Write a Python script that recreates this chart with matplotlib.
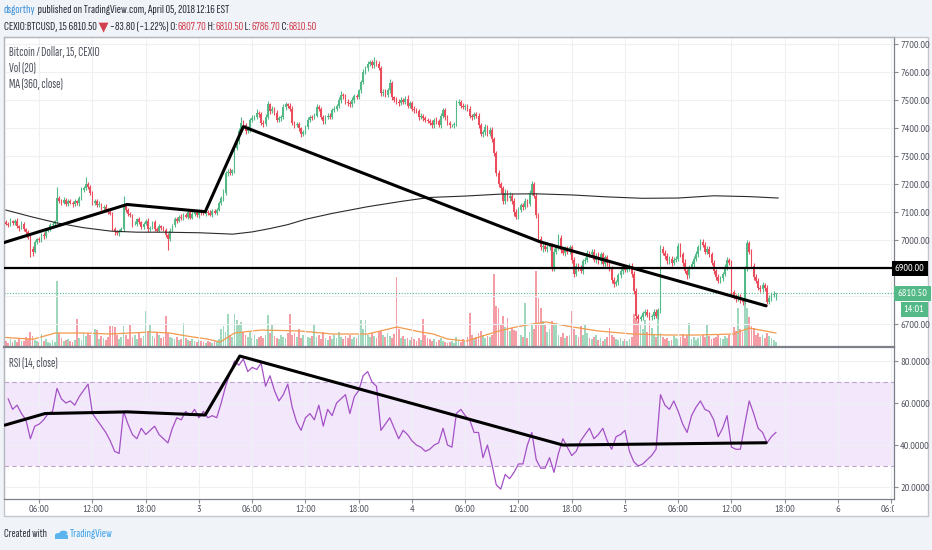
import numpy as np
import matplotlib.pyplot as plt
from matplotlib.patches import Rectangle, Circle
from matplotlib.transforms import Bbox, TransformedBbox

plt.rcParams['font.family'] = ['PT Sans Narrow', 'DejaVu Sans']
NARROW = ['Sofia Sans Extra Condensed', 'PT Sans Narrow', 'DejaVu Sans']

# 15 minute candles, Apr 2 02:15 .. Apr 5 17:15 (hours counted from Apr 2 00:00)
first_open = 7065
close = [
    7060, 7055, 7068, 7062,  7070, 7050, 7045, 7060,  7040, 7030, 7010, 6970,
    6960, 6995, 7005, 7000,  7020, 7015, 7035, 7040,  7055, 7060, 7068, 7150,
    7140, 7135, 7145, 7130,  7140, 7135, 7128, 7140,  7132, 7150, 7180, 7185,
    7200, 7190, 7170, 7135,  7140, 7125, 7130, 7115,  7120, 7110, 7100, 7095,
    7040, 7030, 7025, 7035,  7040, 7125, 7110, 7095,  7090, 7058, 7060, 7075,
    7065, 7048, 7060, 7070,  7040, 7045, 7065, 7040,  7035, 7050, 7045, 7038,
    7020, 7005, 7035, 7055,  7075, 7070, 7085, 7080,  7090, 7085, 7100, 7080,
    7095, 7100, 7090, 7105,  7100, 7095, 7102, 7098,  7092, 7105, 7098, 7110,
    7132, 7150, 7170, 7240,  7245, 7240, 7250, 7330,  7355, 7390, 7420, 7410,
    7390, 7395, 7430, 7438,  7440, 7455, 7450, 7420,  7415, 7440, 7485, 7460,
    7470, 7455, 7430, 7435,  7440, 7475, 7485, 7480,  7470, 7420, 7410, 7415,
    7400, 7380, 7385, 7405,  7430, 7440, 7438, 7445,  7475, 7470, 7440, 7425,
    7440, 7445, 7440, 7465,  7470, 7480, 7500, 7520,  7515, 7495, 7490, 7485,
    7500, 7515, 7510, 7535,  7565, 7600, 7615, 7630,  7635, 7625, 7638, 7630,
    7615, 7525, 7530, 7520,  7535, 7560, 7510, 7500,  7495, 7490, 7500, 7495,
    7505, 7480, 7490, 7470,  7465, 7460, 7440, 7445,  7435, 7430, 7425, 7420,
    7410, 7430, 7425, 7410,  7445, 7465, 7440, 7420,  7410, 7410, 7415, 7490,
    7495, 7480, 7475, 7480,  7470, 7445, 7440, 7450,  7445, 7410, 7380, 7385,
    7405, 7380, 7395, 7360,  7310, 7240, 7200, 7185,  7140, 7170, 7150, 7160,
    7140, 7100, 7085, 7110,  7125, 7120, 7140, 7130,  7170, 7200, 7160, 7090,
    7005, 6975, 6980, 6970,  6975, 6980, 6900, 6960,  6975, 7010, 6965, 6955,
    6970, 6960, 6975, 6930,  6880, 6910, 6900, 6890,  6925, 6930, 6955, 6950,
    6960, 6930, 6945, 6925,  6950, 6915, 6940, 6920,  6900, 6860, 6845, 6850,
    6875, 6890, 6905, 6895,  6900, 6910, 6880, 6820,  6730, 6720, 6725, 6740,
    6745, 6735, 6725, 6728,  6745, 6730, 6750, 6970,  6955, 6945, 6925, 6935,
    6920, 6930, 6935, 6980,  6950, 6920, 6890, 6875,  6905, 6915, 6935, 6950,
    6975, 6995, 6985, 6960,  6970, 6950, 6920, 6890,  6870, 6855, 6865, 6880,
    6905, 6930, 6920, 6815,  6800, 6790, 6800, 6785,  6780, 6900, 6990, 6960,
    6910, 6870, 6855, 6830,  6825, 6840, 6830, 6780,  6795, 6805, 6807.7, 6810.5,
]
wick_up = [
    8, 6, 10, 5,  6, 9, 5, 8,  7, 5, 6, 8,  9, 6, 5, 8,  6, 8, 7, 5,  8, 6, 5, 40,
    10, 6, 8, 5,  6, 9, 5, 7,  5, 8, 12, 10,  27, 8, 6, 5,  8, 6, 9, 5,  6, 8, 5, 7,
    5, 6, 8, 5,  6, 35, 8, 5,  7, 5, 8, 6,  9, 5, 7, 6,  8, 6, 5, 9,  6, 8, 5, 7,
    5, 6, 8, 5,  7, 9, 6, 8,  6, 8, 7, 10,  8, 5, 9, 6,  7, 10, 6, 8,  9, 6, 8, 5,
    8, 10, 12, 9,  8, 12, 6, 10,  12, 10, 20, 8,  9, 12, 8, 10,  8, 15, 6, 9,  8, 10, 12, 7,
    10, 6, 9, 8,  7, 12, 8, 6,  10, 8, 6, 9,  8, 6, 10, 7,  9, 8, 7, 10,  12, 8, 6, 9,
    7, 10, 8, 6,  9, 8, 10, 12,  7, 9, 8, 6,  10, 8, 9, 7,  8, 10, 9, 12,  10, 8, 18, 7,
    9, 8, 12, 10,  8, 15, 9, 6,  10, 8, 12, 7,  9, 15, 8, 6,  8, 7, 9, 10,  6, 8, 7, 9,
    8, 6, 9, 7,  10, 8, 6, 9,  7, 6, 8, 10,  9, 7, 10, 8,  8, 10, 7, 9,  7, 9, 8, 10,
    12, 8, 10, 9,  8, 10, 12, 9,  10, 12, 9, 11,  9, 10, 12, 8,  10, 9, 12, 8,  10, 12, 9, 8,
    9, 10, 12, 8,  8, 10, 9, 12,  10, 12, 9, 8,  9, 8, 10, 7,  10, 8, 9, 12,  8, 9, 10, 8,
    10, 9, 8, 12,  8, 10, 9, 7,  9, 8, 10, 9,  8, 10, 9, 8,  10, 9, 8, 10,  9, 8, 10, 9,
    8, 9, 10, 8,  9, 8, 10, 15,  10, 12, 8, 9,  8, 10, 9, 12,  10, 8, 12, 9,  8, 10, 9, 12,
    10, 8, 9, 10,  9, 8, 10, 9,  8, 10, 9, 8,  9, 10, 8, 10,  9, 8, 10, 9,  8, 10, 10, 9,
    10, 8, 9, 12,  9, 10, 8, 12,  10, 9, 12, 0,
]
wick_dn = [
    6, 9, 5, 8,  8, 6, 10, 5,  5, 8, 6, 30,  15, 6, 8, 5,  7, 9, 5, 6,  6, 5, 8, 6,
    5, 8, 6, 9,  8, 5, 9, 6,  6, 9, 5, 8,  5, 7, 8, 10,  9, 6, 5, 8,  7, 9, 6, 5,
    8, 10, 6, 9,  5, 6, 8, 7,  6, 9, 5, 8,  8, 6, 9, 5,  10, 7, 6, 8,  7, 5, 9, 6,
    8, 40, 6, 5,  6, 8, 5, 7,  9, 6, 8, 5,  5, 8, 6, 9,  8, 6, 9, 7,  6, 9, 5, 8,
    5, 6, 8, 7,  9, 8, 6, 10,  8, 10, 9, 12,  10, 8, 9, 7,  8, 6, 10, 9,  9, 7, 8, 10,
    6, 9, 8, 7,  8, 6, 9, 8,  7, 10, 8, 6,  9, 12, 8, 7,  8, 7, 9, 6,  6, 9, 8, 10,
    9, 6, 8, 7,  7, 8, 6, 9,  9, 7, 10, 8,  8, 9, 7, 6,  9, 8, 7, 10,  8, 10, 9, 8,
    7, 10, 8, 9,  9, 8, 10, 7,  8, 9, 7, 10,  7, 8, 9, 8,  9, 7, 10, 8,  8, 9, 7, 10,
    10, 8, 9, 7,  8, 10, 9, 8,  9, 7, 8, 6,  8, 9, 7, 10,  9, 8, 10, 7,  8, 10, 9, 12,
    10, 9, 8, 10,  9, 12, 10, 15,  12, 10, 9, 11,  10, 12, 9, 10,  8, 10, 9, 12,  9, 8, 10, 12,
    12, 10, 15, 9,  10, 9, 8, 10,  9, 10, 12, 8,  10, 8, 9, 12,  12, 9, 10, 8,  9, 10, 8, 9,
    8, 9, 10, 9,  10, 8, 9, 10,  9, 12, 10, 8,  8, 9, 10, 9,  9, 8, 10, 12,  15, 10, 9, 8,
    9, 10, 8, 9,  8, 9, 10, 8,  9, 10, 8, 9,  10, 8, 9, 10,  9, 10, 8, 12,  8, 9, 10, 8,
    10, 8, 9, 10,  9, 10, 8, 9,  10, 9, 8, 10,  8, 10, 9, 10,  9, 10, 8, 9,  10, 8, 9, 10,
    9, 10, 8, 9,  10, 9, 10, 8,  9, 10, 8, 21,
]
volume = [
    6, 4, 8, 5,  7, 5, 9, 6,  6, 10, 8, 15,  11, 7, 6, 5,  13, 6, 8, 5,  4, 7, 5, 66,
    14, 9, 6, 7,  8, 6, 5, 7,  28, 9, 7, 14,  11, 14, 12, 10,  18, 17, 8, 11,  9, 7, 10, 21,
    21, 20, 12, 8,  10, 21, 12, 8,  23, 10, 12, 8,  14, 9, 11, 36,  16, 23, 11, 9,  14, 12, 9, 10,
    31, 14, 10, 9,  8, 10, 7, 8,  24, 9, 7, 6,  8, 6, 5, 7,  6, 5, 4, 6,  5, 4, 6, 5,
    8, 18, 21, 15,  33, 12, 10, 33,  27, 22, 25, 15,  12, 10, 15, 9,  12, 8, 10, 11,  9, 12, 32, 14,
    23, 11, 9, 8,  12, 10, 9, 14,  33, 12, 14, 10,  18, 9, 12, 8,  10, 9, 11, 22,  10, 12, 8, 15,
    9, 7, 11, 8,  12, 9, 15, 10,  8, 11, 9, 12,  8, 10, 9, 12,  27, 18, 27, 12,  10, 14, 11, 9,
    15, 16, 12, 10,  14, 11, 9, 13,  70, 18, 9, 11,  8, 9, 7, 10,  8, 6, 9, 7,  28, 12, 9, 8,
    6, 8, 5, 7,  9, 6, 5, 4,  5, 6, 4, 10,  7, 5, 8, 6,  10, 34, 12, 8,  10, 14, 16, 12,
    9, 11, 10, 12,  73, 41, 39, 22,  31, 20, 29, 16,  19, 17, 16, 14,  12, 10, 44, 9,  15, 22, 18, 76,
    49, 39, 26, 22,  15, 18, 26, 24,  24, 12, 10, 14,  9, 11, 12, 36,  18, 12, 10, 21,  12, 23, 14, 9,
    8, 10, 12, 7,  9, 6, 8, 10,  19, 12, 10, 8,  7, 9, 6, 8,  6, 8, 10, 33,  29, 26, 23, 18,
    27, 15, 24, 19,  12, 10, 36, 14,  10, 8, 9, 6,  7, 11, 9, 8,  10, 13, 9, 12,  24, 8, 10, 7,
    9, 11, 12, 10,  23, 11, 8, 9,  10, 12, 9, 8,  11, 9, 12, 51,  20, 16, 39, 18,  15, 46, 39, 30,
    21, 19, 12, 14,  10, 12, 9, 14,  11, 9, 7, 5,
]
# Vol (20) average line, read at a few points
vma_h = [2.25, 5.3, 7.8, 11, 14, 18.5, 20.7, 22.6, 24.9, 26.4, 28, 31, 35.4, 39, 43, 46.3,
         49, 50.4, 52, 54.1, 57.8, 59.7, 61.6, 63.1, 65.4, 69, 72.9, 76.6, 80.3, 84.2, 86, 89]
vma_v = [9.5, 7.7, 14, 14, 13, 15, 14, 11, 8, 5, 14, 17, 16, 13, 13, 20,
         15, 13, 8, 6, 16, 20, 23, 25, 21, 16, 13, 12, 12, 13, 19, 14]
# MA (360, close)
ma_h = [2.25, 5, 8, 11, 14, 17, 20, 24, 27.8, 30, 32, 34, 36, 39, 43, 47, 50, 54, 58,
        62, 66, 70, 74, 78, 82, 86, 89.25]
ma_v = [7108, 7085, 7062, 7045, 7033, 7029, 7029, 7027, 7022, 7030, 7042, 7056, 7075, 7096,
        7120, 7140, 7153, 7158, 7165, 7166, 7162, 7155, 7150, 7151, 7159, 7156, 7151]
# RSI (14, close), every second candle
rsi = [
    62, 57, 59, 55, 52, 43, 49, 50, 52, 55, 56, 67, 62, 60, 61, 59, 63, 66, 69, 55,
    52, 49, 46, 42, 37, 36, 56, 50, 45, 43, 48, 45, 47, 49, 45, 43, 41, 48, 53, 52,
    56, 54, 57, 53, 56, 53, 54, 53, 60, 68, 74, 80, 78, 81, 75, 77, 76, 79, 68, 73,
    66, 61, 64, 69, 58, 51, 47, 53, 55, 52, 59, 49, 57, 54, 60, 62, 64, 55, 63, 66,
    73, 75, 70, 68, 47, 50, 53, 48, 43, 47, 45, 42, 40, 39, 37, 38, 40, 41, 48, 40,
    39, 55, 57, 54, 52, 46, 46, 34, 40, 31, 21, 19, 26, 24, 27, 31, 31, 40, 46, 33,
    29, 29, 34, 27, 36, 43, 39, 35, 37, 42, 45, 48, 43, 45, 48, 42, 38, 44, 45, 47,
    37, 32, 30, 31, 33, 35, 38, 64, 59, 57, 61, 56, 50, 46, 54, 58, 61, 57, 56, 52,
    44, 48, 54, 39, 38, 38, 50, 61, 55, 48, 46, 41, 44, 46,
]
# hand drawn trend lines
trend_h = [2.03, 15.9, 24.7, 29.0, 62.4, 87.9]
trend_p = [6992, 7128, 7102, 7406, 6995, 6766]
rsi_trend_h = [2.14, 6.65, 15.9, 24.7, 28.6, 65.0, 87.9]
rsi_trend_v = [49.5, 55, 55.8, 54.3, 82.4, 40, 41.1]
level = 6900
last_price = 6810.5

tick_h = [6, 12, 18, 24, 30, 36, 42, 48, 54, 60, 66, 72, 78, 84, 90, 96, 102]
tick_lab = ['06:00', '12:00', '18:00', '3', '06:00', '12:00', '18:00', '4', '06:00',
            '12:00', '18:00', '5', '06:00', '12:00', '18:00', '6', '']
price_ticks = [6700, 6800, 6900, 7000, 7100, 7200, 7300, 7400, 7500, 7600, 7700]
rsi_ticks = [20, 40, 60, 80]

GREEN = '#53b987'
RED = '#eb4d5c'
GRID = '#eef0f3'
TXT = '#50535e'

W, H = 932, 550
fig = plt.figure(figsize=(W / 100, H / 100), dpi=100, facecolor='#f0f3f8')


def fx(x):
    return x / W


def fy(y):
    return 1 - y / H


fig.patches.append(Rectangle((fx(4), fy(516)), fx(928) - fx(4), fy(37) - fy(516),
                             transform=fig.transFigure, facecolor='white',
                             edgecolor='#c3c6cc', lw=1, zorder=-5))

close = np.array(close, dtype=float)
n = len(close)
t = 2.25 + 0.25 * np.arange(n)
opn = np.concatenate([[first_open], close[:-1]])
high = np.maximum(opn, close) + np.array(wick_up)
low = np.minimum(opn, close) - np.array(wick_dn)
up = close >= opn
cols = np.where(up, GREEN, RED)

x0, x1 = 2.03, 102.31
ax = fig.add_axes([fx(4), fy(347), fx(894) - fx(4), fy(37) - fy(347)])
axv = ax.twinx()
axv.set_zorder(1)
ax.set_zorder(2)
ax.patch.set_visible(False)
axv.patch.set_visible(False)
axr = fig.add_axes([fx(4), fy(499), fx(894) - fx(4), fy(347) - fy(499)])
axr.set_zorder(1)
axr.patch.set_visible(False)

# volume
axv.bar(t, volume, width=0.2, color=cols, alpha=0.55, lw=0)
axv.plot(vma_h, vma_v, color='#f39a4c', lw=0.9)
axv.set_xlim(x0, x1)
axv.set_ylim(0, 310)
axv.set_yticks([])
for s in axv.spines.values():
    s.set_visible(False)

# candles
ax.vlines(t, low, high, colors=cols, lw=0.8, zorder=3)
body = np.maximum(np.abs(close - opn), 1.5)
ax.bar(t, body, bottom=np.minimum(opn, close), width=0.19, color=cols, lw=0, zorder=3)
ax.plot(ma_h, ma_v, color='#2b2b2b', lw=0.8, zorder=4)
ax.plot(trend_h, trend_p, color='black', lw=2.2, zorder=5, solid_capstyle='round')
ax.axhline(level, color='black', lw=1.6, zorder=5)
ax.axhline(last_price, color=GREEN, lw=0.8, ls=(0, (1, 1.5)), zorder=2)

ax.set_xlim(x0, x1)
ax.set_ylim(6619, 7726)
ax.set_xticks(tick_h)
ax.tick_params(axis='x', length=0, labelbottom=False)
ax.yaxis.tick_right()
ax.set_yticks(price_ticks)
# 6800 and 6900 sit under the price boxes
ax.set_yticklabels(['' if p in (6800, 6900) else f'{p:.2f}' for p in price_ticks])
ax.tick_params(axis='y', length=3, width=0.8, color='#8a8d94', labelsize=7.5,
               labelcolor=TXT, pad=1.5)
ax.grid(True, color=GRID, lw=0.8, zorder=0)
ax.set_axisbelow(True)

for name, s in ax.spines.items():
    s.set_color('#b4b7be')
    s.set_linewidth(0.9)
ax.spines['right'].set_color('#7d8088')
ax.spines['bottom'].set_color('#7d8088')
ax.spines['bottom'].set_linewidth(1.6)

# price labels on the axis
ytr = ax.get_yaxis_transform()
ax.text(1.001, level, '6900.00', transform=ytr, ha='left', va='center', fontsize=7.5,
        color='white', zorder=10, clip_on=False,
        bbox=dict(boxstyle='square,pad=0.3', fc='black', ec='none'))
ax.text(1.004, last_price, '6810.50', transform=ytr, ha='left', va='center', fontsize=7.5,
        color='white', zorder=10, clip_on=False,
        bbox=dict(boxstyle='square,pad=0.3', fc=GREEN, ec='none'))
ax.annotate('14:01', xy=(1.0, last_price), xycoords=ytr, xytext=(20, -16),
            textcoords='offset pixels', ha='center', va='center', fontsize=7.5,
            color='white', zorder=10, annotation_clip=False,
            bbox=dict(boxstyle='square,pad=0.3', fc=GREEN, ec='none'))

# RSI panel
axr.axhspan(30, 70, color='#f3e7fc', lw=0, zorder=0)
for lv in (30, 70):
    axr.axhline(lv, color='#bba3cc', lw=0.8, ls=(0, (4, 3)), zorder=1)
axr.plot(t[1::2], rsi, color='#a451c5', lw=0.9, zorder=3)
axr.plot(rsi_trend_h, rsi_trend_v, color='black', lw=2.2, zorder=4,
         solid_capstyle='round')
axr.set_xlim(x0, x1)
axr.set_ylim(14.3, 86.7)
axr.set_xticks(tick_h)
axr.set_xticklabels(tick_lab)
axr.yaxis.tick_right()
axr.set_yticks(rsi_ticks)
axr.set_yticklabels([f'{v:.4f}' for v in rsi_ticks])
axr.tick_params(axis='y', length=3, width=0.8, color='#8a8d94', labelsize=7.5,
                labelcolor=TXT, pad=1.5)
axr.tick_params(axis='x', length=3, width=0.8, color='#8a8d94', labelsize=7.5,
                labelcolor=TXT, pad=1.5)
axr.grid(True, color=GRID, lw=0.8, zorder=0)
axr.set_axisbelow(True)
for name, s in axr.spines.items():
    s.set_color('#b4b7be')
    s.set_linewidth(0.9)
axr.spines['top'].set_visible(False)
axr.spines['right'].set_color('#7d8088')
axr.spines['bottom'].set_color('#7d8088')

# last time label, cut off at the price scale
lab = axr.text(102, -(509 - 499) / 152, '06:00', transform=axr.get_xaxis_transform(),
               ha='center', va='center', fontsize=7.5, color=TXT)
lab.set_clip_box(TransformedBbox(Bbox([[fx(4), fy(520)], [fx(894), fy(499)]]),
                                 fig.transFigure))
lab.set_clip_on(True)


def draw_parts(xp, yp, parts, size, target=None):
    r = fig.canvas.get_renderer()
    if target is not None:
        total = 0
        for s, c, w in parts:
            tt = fig.text(0, 0, s, fontsize=size, fontweight=w, family=NARROW)
            total += tt.get_window_extent(r).width
            tt.remove()
        size = size * target / total
    x = xp
    for s, c, w in parts:
        tt = fig.text(fx(x), fy(yp), s, fontsize=size, color=c, fontweight=w,
                      family=NARROW, ha='left', va='center')
        x += tt.get_window_extent(r).width
    return size


# panel legends
lsize = draw_parts(9, 53, [('Bitcoin / Dollar, 15, CEXIO', TXT, 'normal')], 8, target=90)
draw_parts(9, 68, [('Vol (20)', TXT, 'normal')], lsize)
draw_parts(9, 84, [('MA (360, close)', TXT, 'normal')], lsize)
draw_parts(9, 363, [('RSI (14, close)', TXT, 'normal')], lsize)

DARK = '#2a2e39'
HRED = '#d2404f'
draw_parts(4, 10, [('dsgorthy', '#3a8fd6', 'normal'),
                   (' published on TradingView.com, April 05, 2018 12:16 EST', DARK, 'normal')],
           8, target=224)
draw_parts(4, 27, [('CEXIO:BTCUSD, 15', DARK, 'bold'),
                   (' 6810.50', DARK, 'normal'), (' ▼', HRED, 'normal'),
                   (' −83.80 (−1.22%) O:', DARK, 'normal'), ('6807.70', HRED, 'normal'),
                   (' H:', DARK, 'normal'), ('6810.50', HRED, 'normal'),
                   (' L:', DARK, 'normal'), ('6786.70', HRED, 'normal'),
                   (' C:', DARK, 'normal'), ('6810.50', HRED, 'normal')],
           8, target=309)

# footer
draw_parts(4, 534, [('Created with', DARK, 'normal')], 8, target=43)
for cx, cy, rr in [(58.5, 535, 3.4), (63.5, 533, 4.0)]:
    fig.patches.append(Circle((fx(cx), fy(cy)), rr / W, transform=fig.transFigure,
                              color='#5bb4ee', lw=0))
fig.patches.append(Rectangle((fx(55), fy(539)), fx(68) - fx(55), fy(535) - fy(539),
                             transform=fig.transFigure, color='#5bb4ee', lw=0))
draw_parts(70, 534, [('TradingView', '#3ea3ea', 'normal')], 8, target=43)

fig.savefig('out.png', dpi=100, facecolor=fig.get_facecolor())
